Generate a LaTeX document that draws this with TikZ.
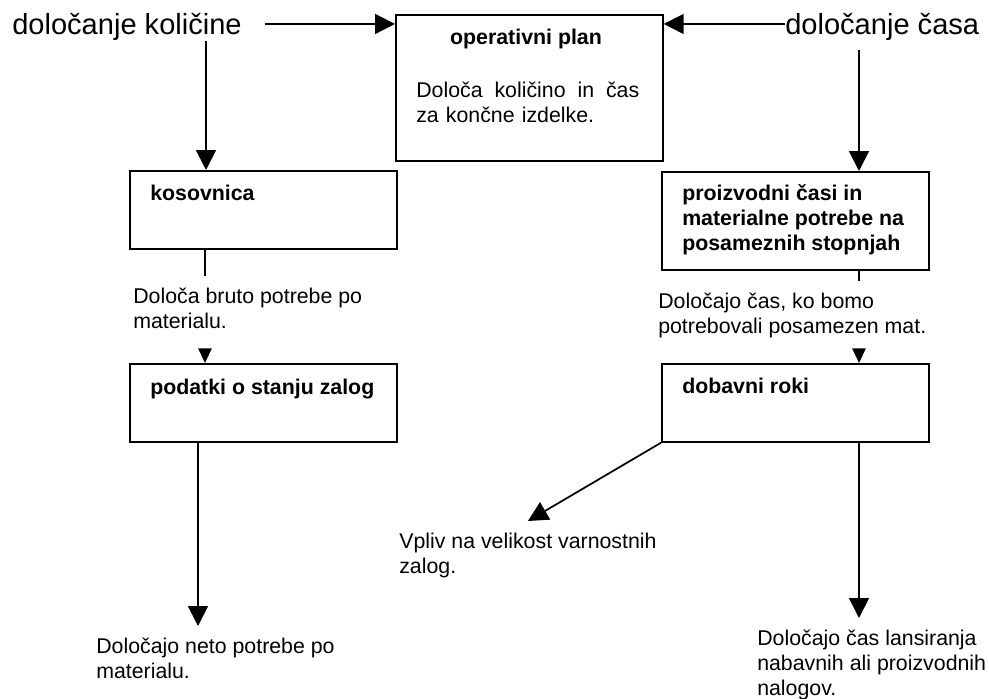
\documentclass[tikz,border=0pt]{standalone}
\usepackage{fontspec}
\setmainfont{Liberation Sans}
\usetikzlibrary{arrows.meta}

\begin{document}
\begin{tikzpicture}[x=0.75pt,y=-0.75pt,
    box/.style={draw,line width=1.3pt,anchor=north west,inner sep=0pt,minimum width=200.25pt},
    big/.style={font=\fontsize{21.8}{26}\selectfont,inner sep=0pt,anchor=base west},
    head/.style={font=\fontsize{16}{18.75}\selectfont\bfseries,inner sep=0pt,anchor=base west},
    body/.style={font=\fontsize{16}{18.75}\selectfont,inner xsep=0pt,inner ysep=9pt,anchor=north west,align=left},
    conn/.style={line width=1.3pt},
    bigarr/.style={conn,-{Triangle[length=15pt,width=15pt]}},
    smallarr/.style={conn,-{Triangle[length=11pt,width=10pt]}}]
    \useasboundingbox (0,0) rectangle (989,699);

    % boxes
    \node[box,minimum height=109.5pt] (plan) at (395,14) {};
    \node[box,minimum height=58.5pt]  (kos)  at (129,170) {};
    \node[box,minimum height=58.5pt]  (pod)  at (129,363) {};
    \node[box,minimum height=73.5pt]  (pro)  at (661,171) {};
    \node[box,minimum height=58.5pt]  (dob)  at (661,363) {};

    % titles in the boxes
    \node[head,anchor=base] (planT) at (526,45) {operativni plan};
    \node[body,inner ysep=0pt,text width=167.25pt] (planB) at (416,81.4)
      {Določa\hfill količino\hfill in\hfill čas\\za končne izdelke.};
    \node[head] (kosT) at (150,200.7) {kosovnica};
    \node[head] (podT) at (150,394) {podatki o stanju zalog};
    \node[head,anchor=north west,align=left] (proT) at (682,184.5)
      {proizvodni časi in\\materialne potrebe na\\posameznih stopnjah};
    \node[head] (dobT) at (682,393.3) {dobavni roki};

    % outer labels
    \node[big] (kol) at (12,35) {določanje količine};
    \node[big] (cas) at (785,35) {določanje časa};
    \node[body] (bruto)  at (133,276)   {Določa bruto potrebe po\\materialu.};
    \node[body] (casmat) at (658,281)   {Določajo čas, ko bomo\\potrebovali posamezen mat.};
    \node[body] (neto)   at (96,626)    {Določajo neto potrebe po\\materialu.};
    \node[body] (vpliv)  at (399,521)   {Vpliv na velikost varnostnih\\zalog.};
    \node[body] (lans)   at (757,618)   {Določajo čas lansiranja\\nabavnih ali proizvodnih\\nalogov.};

    % top arrows
    \draw[bigarr] ([xshift=17pt,yshift=2.6pt]kol.east) -- ([yshift=2.6pt]kol.east -| plan.west);
    \draw[bigarr] ([yshift=2.6pt]cas.west) -- ([yshift=2.6pt]cas.west -| plan.east);
    \draw[bigarr] ([xshift=57.75pt]kos.north west |- kol.south) -- ([xshift=57.75pt]kos.north west);
    \draw[bigarr,shorten <=6.75pt] ([xshift=148.5pt]pro.north west |- cas.south) -- ([xshift=148.5pt]pro.north west);

    % left column
    \draw[conn] ([xshift=57pt]kos.south west) -- ([xshift=57pt]kos.south west |- bruto.north);
    \draw[smallarr,shorten <=5.5pt] ([xshift=57pt]pod.north west |- bruto.south) -- ([xshift=57pt]pod.north west);
    \draw[bigarr] ([xshift=51.75pt]pod.south west) -- ([xshift=51.75pt]pod.south west |- neto.north);

    % right column
    \draw[conn] ([xshift=148.5pt]pro.south west) -- ([xshift=148.5pt]pro.south west |- casmat.north);
    \draw[smallarr] ([xshift=148.5pt]dob.north west |- casmat.south) -- ([xshift=148.5pt]dob.north west);
    \draw[bigarr] (dob.south west) -- (vpliv.north);
    \draw[bigarr] ([xshift=148.5pt]dob.south west) -- ([xshift=148.5pt]dob.south west |- lans.north);
\end{tikzpicture}
\end{document}
